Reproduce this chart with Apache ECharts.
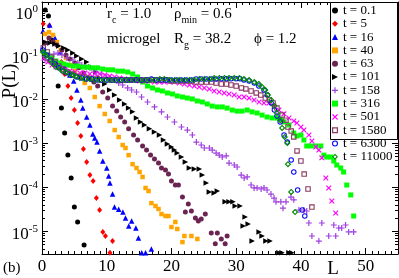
<!DOCTYPE html>
<html><head><meta charset="utf-8">
<script src="https://cdn.jsdelivr.net/npm/echarts@6/dist/echarts.min.js"></script>
<style>html,body{margin:0;padding:0;background:#fff}#c{width:399px;height:278px}</style>
</head><body><div id="c"></div><script>
const seriesNames = ['t = 0.1','t = 5','t = 16','t = 40','t = 63','t = 101','t = 158','t = 316','t = 501','t = 1580','t = 6300','t = 11000'];
const xTicks = [0,10,20,30,40,50];

const L_t0_1 = [0.5,1,1.5,2,2.5,3,3.5,4,4.5,5,5.5,6.5];
const P_t0_1 = [1.05,0.77,0.22,0.069,0.0197,0.0062,0.00169,5.3e-4,1.6e-4,3.5e-5,1.6e-5,4.8e-6];

const L_t5 = [0.2,1.1,2,3,3.5,4,4.5,5,5.5,6,6.4,6.9,7.4,7.9,8.4,8.9,9.4,9.8,10.5,10.9];
const P_t5 = [0.51,0.46,0.197,0.069,0.037,0.0197,0.0105,0.0056,0.00285,0.00144,7.3e-4,3.7e-4,1.87e-4,1.37e-4,5.6e-5,3.0e-5,9.5e-6,7.7e-6,3.2e-6,5.9e-6];

const L_t16 = [0.15,1.2,2,2.8,3.5,4.3,4.9,5.4,6,6.3,6.9,7.4,7.85,8.15,8.5,8.9,9.4,10,10.3,10.5,10.9,11.2,11.85,12.5,12.9,13.4,13.85,14.5,14.9,15.4,16,16.9];
const P_t16 = [0.35,0.48,0.243,0.117,0.056,0.035,0.0256,0.016,0.0095,0.0062,0.0039,0.00256,0.0016,0.0013,0.00105,6.6e-4,3.9e-4,2.7e-4,1.78e-4,1.23e-4,6.9e-5,3.5e-5,3.1e-5,2.7e-5,1.97e-5,1.3e-5,1.69e-5,1.17e-5,6.9e-6,3.2e-6,3.2e-6,3.9e-6];

const L_t40 = [0.46,1.08,1.7,2.3,2.9,3.7,4.3,5.08,5.85,6.6,7.38,8.15,8.9,9.7,10.46,11.23,11.85,12.46,12.9,13.38,14.0,14.6,15.08,15.54,16.0,16.46,16.9,17.54,18.0,18.46,19.08,19.54,20.0,20.6,20.9,21.7,22.0,23.08,24.0];
const P_t40 = [0.30,0.33,0.285,0.197,0.13,0.0855,0.059,0.043,0.0316,0.0231,0.0178,0.0111,0.0069,0.00456,0.00316,0.00197,0.00137,9.0e-4,7.7e-4,5.3e-4,3.3e-4,2.7e-4,2.19e-4,1.69e-4,9.5e-5,8.1e-5,4.3e-5,3.7e-5,3.16e-5,2.43e-5,2.19e-5,2.19e-5,1.23e-5,1.6e-5,1.11e-5,5.6e-6,7.7e-6,7.7e-6,6.6e-6];

const L_t63 = [0.46,1.08,1.7,2.3,3.08,3.7,4.3,5.08,5.7,6.46,7.23,8.0,8.6,9.38,10.15,10.9,11.54,12.15,12.77,13.38,14.15,14.77,15.54,16.15,16.77,17.38,18.0,18.46,19.08,19.54,20.0,20.6,21.08,21.7,22.15,22.6,23.08,23.7,24.15,24.6,25.23,26.15,26.77,27.08,27.7,28.3,28.6];
const P_t63 = [0.187,0.243,0.197,0.169,0.13,0.1,0.081,0.066,0.051,0.039,0.030,0.0243,0.0197,0.0144,0.0105,0.0069,0.0053,0.0039,0.0030,0.0021,0.00152,0.00117,8.55e-4,6.9e-4,5.3e-4,4.3e-4,3.5e-4,2.7e-4,2.43e-4,1.97e-4,1.37e-4,1.11e-4,1.11e-4,5.9e-5,2.7e-5,4.1e-5,2.85e-5,1.97e-5,1.69e-5,1.87e-5,2.43e-5,9.0e-6,5.1e-6,9.0e-6,6.6e-6,5.1e-6,7.7e-6];

const L_t101 = [0.46,1.23,2.0,2.6,3.38,4.0,4.77,5.38,6.15,6.9,7.54,8.3,8.9,9.7,10.46,11.23,12.0,12.77,13.38,14.0,14.6,15.23,15.85,16.6,17.38,18.15,18.77,19.38,20.0,20.46,20.9,21.54,22.15,22.77,23.54,24.3,24.77,25.38,25.85,26.6,27.08,28.3,28.9,29.5,29.85,30.6,31.08,31.38,31.85,32.46,33.54,34.0,34.6,35.23,36.6,37.08,38.15,38.6];
const P_t101 = [0.197,0.187,0.178,0.16,0.144,0.13,0.111,0.095,0.081,0.069,0.053,0.041,0.030,0.0219,0.016,0.0123,0.0095,0.0077,0.0062,0.0051,0.0037,0.0030,0.00256,0.0021,0.00178,0.00152,0.00117,9.5e-4,8.1e-4,6.9e-4,5.9e-4,4.8e-4,3.7e-4,2.7e-4,2.56e-4,2.56e-4,1.87e-4,1.23e-4,7.7e-5,7.3e-5,8.1e-5,4.6e-5,4.6e-5,4.6e-5,3.7e-5,3.7e-5,1.3e-5,2.08e-5,1.44e-5,5.9e-6,9.5e-6,7.7e-6,5.9e-6,5.9e-6,3.2e-6,3.2e-6,3.2e-6,3.2e-6];

const L_t158 = [0.46,1.23,1.85,2.46,3.08,3.85,4.77,5.54,6.15,6.77,7.38,8.0,8.46,9.23,10.0,10.6,11.23,11.85,12.46,13.23,13.85,14.6,15.38,16.3,17.38,18.46,19.38,20.46,21.54,22.46,23.23,23.85,24.6,25.08,25.85,26.3,26.9,27.38,27.85,28.46,28.9,29.7,30.15,30.77,31.23,31.7,32.3,32.77,33.23,33.85,34.3,34.77,35.38,35.85,36.15,36.9,37.23,37.7,38.46,38.9,39.7,40.46,40.9,41.23,41.7,42.77,43.23,44.3,45.08,45.38,45.85,46.3,46.9,47.38,48.15];
const P_t158 = [0.077,0.095,0.105,0.111,0.1,0.0855,0.077,0.066,0.059,0.053,0.051,0.046,0.041,0.037,0.0316,0.0285,0.027,0.0231,0.0208,0.0178,0.016,0.0144,0.0111,0.00855,0.0066,0.0051,0.0039,0.0030,0.00231,0.00197,0.00152,0.00105,9.0e-4,7.7e-4,7.7e-4,6.9e-4,5.9e-4,5.3e-4,4.8e-4,5.1e-4,3.5e-4,3.16e-4,2.85e-4,1.87e-4,1.6e-4,1.69e-4,1.11e-4,9.5e-5,9.5e-5,9.0e-5,9.5e-5,8.55e-5,6.9e-5,5.6e-5,4.6e-5,4.6e-5,3.3e-5,4.6e-5,5.9e-5,5.1e-5,3.0e-5,3.0e-5,2.85e-5,1.52e-5,7.7e-6,5.9e-6,1.52e-5,7.7e-6,1.37e-5,7.7e-6,1.17e-5,1.17e-5,1.37e-5,9.5e-6,9.5e-6];

const L_t316 = [0.3,0.9,1.54,2.15,2.77,3.38,4.0,4.77,5.54,6.3,7.08,7.85,8.6,9.38,10.15,10.9,11.7,12.46,13.23,14.0,14.77,15.54,16.3,17.08,17.85,18.6,19.38,20.15,20.9,21.7,22.46,23.23,24.0,24.77,25.54,26.3,27.08,27.85,28.6,29.4,30.15,30.9,31.7,32.46,33.23,34.0,34.77,35.54,36.3,36.9,37.38,38.15,38.9,39.38,40.0,40.46,40.9,41.54,42.3,43.08,43.54,44.0,44.6,45.08,45.54,46.15,46.6,47.08,47.7,48.15];
const P_t316 = [0.117,0.1,0.0855,0.073,0.066,0.062,0.059,0.056,0.056,0.053,0.053,0.051,0.051,0.048,0.046,0.046,0.043,0.043,0.041,0.037,0.0316,0.0243,0.0197,0.0178,0.016,0.0152,0.0137,0.013,0.0117,0.0111,0.0105,0.01,0.009,0.00855,0.0077,0.0069,0.0066,0.0066,0.0062,0.0056,0.0053,0.0053,0.0056,0.0051,0.0048,0.0043,0.0039,0.0037,0.0037,0.0035,0.0030,0.00256,0.00169,0.00144,0.00152,0.00117,8.55e-4,8.55e-4,8.55e-4,8.55e-4,5.3e-4,4.8e-4,4.8e-4,3.9e-4,3.16e-4,2.7e-4,2.19e-4,1.11e-4,6.6e-5,2.19e-5];

const L_t501 = [0.3,0.9,1.54,2.15,2.77,3.54,4.3,5.08,5.85,6.6,7.38,8.15,8.9,9.7,10.46,11.23,12.0,12.77,13.54,14.3,15.08,15.85,16.6,17.38,18.15,18.9,19.7,20.46,21.23,22.0,22.77,23.54,24.3,25.08,25.85,26.6,27.38,28.15,28.9,29.7,30.46,31.23,32.0,32.77,33.54,34.3,35.08,35.85,36.6,37.38,38.15,38.9,39.38,40.0,40.46,41.23,41.7,42.3,42.77,43.23,43.85,44.3,44.77,45.38];
const P_t501 = [0.0855,0.069,0.059,0.053,0.051,0.046,0.043,0.041,0.039,0.039,0.037,0.037,0.037,0.035,0.033,0.0316,0.030,0.0285,0.027,0.027,0.0256,0.0256,0.0256,0.0243,0.0243,0.0243,0.0243,0.0243,0.0231,0.0219,0.0208,0.0197,0.0187,0.0178,0.0169,0.0152,0.0144,0.0137,0.013,0.0123,0.0111,0.0111,0.0105,0.0095,0.00855,0.0081,0.0081,0.0069,0.0056,0.0046,0.0037,0.00316,0.00285,0.00231,0.00197,0.00152,0.00111,8.1e-4,6.9e-4,4.6e-4,1.6e-4,9.5e-5,4.8e-5,2.56e-5];

const L_t1580 = [0.2,0.8,1.4,2.0,2.6,3.2,3.9,4.6,5.4,6.2,6.9,7.7,8.5,9.2,10.0,10.8,11.5,12.3,13.1,13.8,14.6,15.4,16.2,16.9,17.7,18.5,19.2,20.0,20.8,21.5,22.3,23.1,23.8,24.6,25.4,26.2,26.9,27.7,28.5,29.2,30.0,30.8,31.5,32.3,33.1,33.8,34.5,35.1,35.7,36.3,37.1,37.7,38.0,38.5,38.9,39.4,40.0,40.5,41.1,41.7];
const P_t1580 = [0.144,0.117,0.090,0.069,0.056,0.048,0.041,0.037,0.033,0.0316,0.030,0.0285,0.0285,0.027,0.027,0.027,0.027,0.027,0.027,0.027,0.027,0.027,0.027,0.027,0.027,0.027,0.027,0.0256,0.0256,0.0256,0.0256,0.0256,0.0243,0.0243,0.0243,0.0243,0.0231,0.0219,0.0219,0.0208,0.0197,0.0178,0.0169,0.0152,0.0137,0.0123,0.0105,0.0095,0.0081,0.0062,0.0043,0.0033,0.00231,0.00187,0.00137,6.6e-4,3.9e-4,1.97e-4,9.0e-5,3.5e-5];

const L_t6300 = [0.15,0.75,1.35,2.0,2.6,3.2,3.85,4.6,5.4,6.15,6.9,7.7,8.5,9.2,10.0,10.8,11.5,12.3,13.1,13.8,14.6,15.4,16.2,16.9,17.7,18.5,19.2,20.0,20.8,21.5,22.3,23.1,23.8,24.6,25.4,26.2,26.9,27.7,28.5,29.2,30.0,30.6,31.2,32.0,32.8,33.5,34.3,34.8,35.4,35.9,36.3,36.8,37.4,37.9,38.5,38.9,39.5,40.2,40.6];
const P_t6300 = [0.13,0.1,0.077,0.062,0.051,0.043,0.039,0.035,0.0316,0.030,0.0285,0.0285,0.027,0.027,0.027,0.027,0.027,0.027,0.027,0.027,0.027,0.027,0.027,0.0285,0.027,0.027,0.027,0.027,0.027,0.027,0.027,0.027,0.0285,0.0285,0.0285,0.0285,0.0285,0.029,0.029,0.029,0.029,0.029,0.027,0.0256,0.0231,0.0197,0.016,0.0123,0.0081,0.0056,0.0041,0.0030,0.00152,0.00105,4.1e-4,2.19e-4,8.55e-5,3.0e-5,2.19e-5];

const L_t11000 = [0.15,0.6,1.2,1.7,2.15,2.8,3.2,3.7,4.3,4.8,5.2,5.85,6.6,7.4,8.2,8.9,9.7,10.5,11.2,12.0,12.8,13.5,14.3,15.1,15.9,16.6,17.4,18.2,18.9,19.7,20.5,21.2,22.0,22.8,23.5,24.3,25.1,25.9,26.6,27.4,28.2,28.9,29.7,30.5,31.2,32.0,32.8,33.5,34.0,34.5,34.9,35.4,35.9,36.3,36.8,37.1,37.5,37.9,38.0,38.5,39.1];
const P_t11000 = [0.117,0.095,0.077,0.062,0.053,0.048,0.043,0.041,0.037,0.035,0.033,0.030,0.0285,0.0285,0.027,0.027,0.027,0.027,0.027,0.027,0.027,0.027,0.027,0.027,0.027,0.027,0.027,0.0285,0.0285,0.027,0.027,0.027,0.027,0.027,0.027,0.0285,0.0285,0.0285,0.030,0.030,0.030,0.030,0.030,0.030,0.0285,0.027,0.0243,0.0219,0.0187,0.016,0.0123,0.0095,0.0069,0.0048,0.0033,0.0022,0.00137,0.001,3.3e-4,7.7e-5,2.7e-5];

const X_MIN = 0, X_MAX = 55, Y_MIN = 3.0e-6, Y_MAX = 1.6;

const FONT = "'Liberation Serif', 'Times New Roman', serif";
const PLUS = 'path://M0,4L10,4L10,6L0,6Z M4,0L6,0L6,10L4,10Z';
const CROSS = 'path://M0,1.5L1.5,0L5,3.5L8.5,0L10,1.5L6.5,5L10,8.5L8.5,10L5,6.5L1.5,10L0,8.5L3.5,5Z';
const TRI_RIGHT = 'path://M0,0L10,5L0,10Z';
const SQ_FRAME = 'path://M0,0L10,0L10,2L0,2Z M0,8L10,8L10,10L0,10Z M0,2L2,2L2,8L0,8Z M8,2L10,2L10,8L8,8Z';
const RING_CIRC = 'path://M5,0A5,5 0 1,1 5,10A5,5 0 1,1 5,0Z M5,1.8A3.2,3.2 0 1,0 5,8.2A3.2,3.2 0 1,0 5,1.8Z';
const RING_DIAM = 'path://M5,0L10,5L5,10L0,5Z M5,2.5L2.5,5L5,7.5L7.5,5Z';
const styles = [
  {symbol:'circle', size:5, color:'#000000'},
  {symbol:'diamond', size:[5,6], color:'#ff0000'},
  {symbol:'triangle', size:5.5, color:'#0000ff'},
  {symbol:'rect', size:4.5, color:'#ffa500'},
  {symbol:'circle', size:5, color:'#6b2452'},
  {symbol:TRI_RIGHT, size:5.5, color:'#000000'},
  {symbol:PLUS, size:6, color:'#a040e0'},
  {symbol:'rect', size:5, color:'#00ff00'},
  {symbol:CROSS, size:5.5, color:'#ff00ff'},
  {symbol:SQ_FRAME, size:5.5, color:'#8b3a62'},
  {symbol:RING_CIRC, size:5.5, color:'#0000ff'},
  {symbol:RING_DIAM, size:6.5, color:'#008b00'}
];
const Ls = [L_t0_1,L_t5,L_t16,L_t40,L_t63,L_t101,L_t158,L_t316,L_t501,L_t1580,L_t6300,L_t11000];
const Ps = [P_t0_1,P_t5,P_t16,P_t40,P_t63,P_t101,P_t158,P_t316,P_t501,P_t1580,P_t6300,P_t11000];

const series = seriesNames.map((name, i) => ({
  type:'scatter', name, xAxisIndex:0, yAxisIndex:0,
  data: Ls[i].map((l, k) => [l, Ps[i][k]]),
  symbol: styles[i].symbol, symbolSize: styles[i].size,
  itemStyle: {color: styles[i].color, borderWidth: 0, opacity:1},
  emphasis:{disabled:true}, silent:true
}));

// log minor ticks (2..9 per decade) on left and right axes
const minorVals = [];
for (let e = -6; e <= 0; e++) for (let m = 2; m <= 9; m++) {
  const v = m * Math.pow(10, e);
  if (v > Y_MIN && v < Y_MAX) minorVals.push([X_MIN, v]);
}
series.push({
  type:'custom', name:'minor', xAxisIndex:0, yAxisIndex:0, silent:true, clip:false,
  data: minorVals,
  renderItem: (params, api) => {
    const v = api.value(1);
    const pl = api.coord([X_MIN, v]);
    const pr = api.coord([X_MAX, v]);
    const y = Math.round(pl[1]) + 0.5;
    return {type:'group', children:[
      {type:'line', shape:{x1:pl[0], y1:y, x2:pl[0]+3, y2:y}, style:{stroke:'#000', lineWidth:1}},
      {type:'line', shape:{x1:pr[0]-3, y1:y, x2:pr[0], y2:y}, style:{stroke:'#000', lineWidth:1}}
    ]};
  }
});

const legendData = seriesNames.map((name, i) => ({name, icon: styles[i].symbol}));

const AX = {color:'#000', width:1};
const yRich = {
  b:{fontFamily:FONT, fontSize:17, color:'#000', lineHeight:22},
  s:{fontFamily:FONT, fontSize:11, color:'#000', lineHeight:12, verticalAlign:'top'}
};
const annRich = {
  t:{fontFamily:FONT, fontSize:15, lineHeight:22, fill:'#000'},
  s:{fontFamily:FONT, fontSize:10, lineHeight:10, verticalAlign:'bottom', fill:'#000'}
};

const option = {
  animation:false,
  backgroundColor:'#fff',
  grid:{left:42, right:1, top:2, bottom:24, containLabel:false},
  xAxis:[
    {type:'value', min:X_MIN, max:X_MAX, interval:10, position:'bottom',
     axisLine:{onZero:false, lineStyle:AX},
     axisTick:{inside:true, length:6, lineStyle:AX},
     minorTick:{show:true, splitNumber:10, length:3, lineStyle:AX},
     splitLine:{show:false}, minorSplitLine:{show:false},
     axisLabel:{showMaxLabel:false, fontFamily:FONT, fontSize:17, color:'#000', margin:4,
       formatter: v => (xTicks.indexOf(v) >= 0 ? String(v) : '')}},
    {type:'value', min:X_MIN, max:X_MAX, interval:10, position:'top',
     axisLine:{onZero:false, lineStyle:AX},
     axisTick:{inside:true, length:6, lineStyle:AX},
     minorTick:{show:true, splitNumber:10, length:3, lineStyle:AX},
     splitLine:{show:false}, axisLabel:{show:false}}
  ],
  yAxis:[
    {type:'log', logBase:10, min:Y_MIN, max:Y_MAX, position:'left',
     axisLine:{onZero:false, lineStyle:AX},
     axisTick:{inside:true, length:6, lineStyle:AX},
     splitLine:{show:false},
     axisLabel:{showMinLabel:false, showMaxLabel:false, margin:4, padding:[8,0,0,0],
       formatter: v => '{b|10}{s|' + Math.round(Math.log10(v)) + '}', rich:yRich}},
    {type:'log', logBase:10, min:Y_MIN, max:Y_MAX, position:'right',
     axisLine:{onZero:false, lineStyle:AX},
     axisTick:{inside:true, length:6, lineStyle:AX},
     splitLine:{show:false}, axisLabel:{show:false}}
  ],
  legend:{
    data:legendData, orient:'vertical', left:332, top:4, itemWidth:6, itemHeight:6, itemGap:0.3,
    padding:0, selectedMode:false, z:8, itemStyle:{borderWidth:0},
    textStyle:{fontFamily:FONT, fontSize:13, color:'#000', lineHeight:11}
  },
  graphic:[
    {type:'rect', z:7, shape:{x:330.5, y:2.5, width:67, height:137}, style:{fill:'#fff', stroke:'#000', lineWidth:1}},
    {type:'text', left:107, top:7, z:7, style:{text:'{t|r}{s|c}{t| = 1.0}', rich:annRich}},
    {type:'text', left:174, top:7, z:7, style:{text:'{t|ρ}{s|min}{t| = 0.6}', rich:annRich}},
    {type:'text', left:107, top:32, z:7, style:{text:'{t|microgel}', rich:annRich}},
    {type:'text', left:174, top:32, z:7, style:{text:'{t|R}{s|g}{t| = 38.2}', rich:annRich}},
    {type:'text', left:254, top:32, z:7, style:{text:'{t|ϕ = 1.2}', rich:annRich}},
    {type:'text', x:10, y:81, rotation:Math.PI/2, z:7, style:{text:'P(L)', fontFamily:FONT, fontSize:19, fill:'#000', align:'center', verticalAlign:'middle'}},
    {type:'text', x:333, y:269, z:7, style:{text:'L', fontFamily:FONT, fontSize:19, fill:'#000', align:'center', verticalAlign:'middle'}},
    {type:'text', x:3, y:268, z:7, style:{text:'(b)', fontFamily:FONT, fontSize:15, fill:'#000', align:'left', verticalAlign:'middle'}}
  ],
  series
};
const chart = echarts.init(document.getElementById('c'), null, {renderer:'canvas', width:399, height:278});
chart.setOption(option);
</script></body></html>
